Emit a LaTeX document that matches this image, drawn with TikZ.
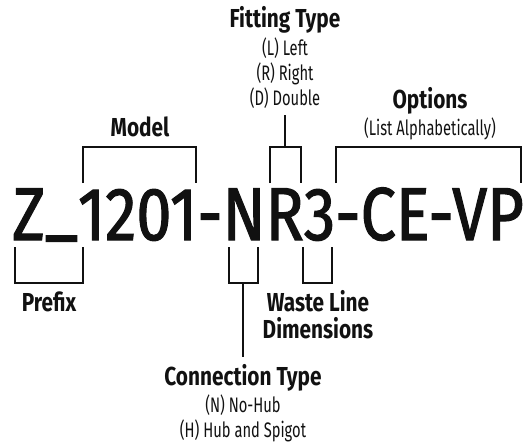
\documentclass[tikz,border=0pt]{standalone}
\usepackage{fontspec}
\setmainfont{Fira Sans}
\newfontfamily\codefont[FakeStretch=0.84,FakeBold=1.5]{Fira Sans}
\newfontfamily\headfont[FakeStretch=0.8]{Fira Sans}
\newfontfamily\subfont[FakeStretch=0.7]{Fira Sans}
\definecolor{ink}{HTML}{111111}

\begin{document}
\begin{tikzpicture}[x=1pt,y=-1pt]
  \tikzset{
    head/.style={ink,font=\headfont\bfseries\fontsize{26}{27}\selectfont,inner sep=0pt,align=center},
    sub/.style={ink,font=\subfont\fontsize{21}{25}\selectfont,inner sep=0pt,align=center},
    brk/.style={ink,line width=2pt}
  }
  \useasboundingbox (0,0) rectangle (532,442);

  % Part number
  \node[ink,font=\codefont\fontsize{75}{75}\selectfont,inner sep=0pt,anchor=base] (code) at (268,240) {Z\raisebox{0.12em}{\_}1201-NR3-CE-VP};

  % Labels above (base = last line)
  \node[head,anchor=base] (model) at (140,136) {Model};
  \node[head,anchor=base] (fitting) at (285,27) {Fitting Type};
  \node[sub,anchor=base] (fitopts) at (285,105) {(L) Left\\(R) Right\\(D) Double};
  \node[head,anchor=base] (options) at (430,108) {Options};
  \node[sub,anchor=base] (optnote) at (430,135) {(List Alphabetically)};

  % Labels below
  \node[head,anchor=base] (prefix) at (49,311) {Prefix};
  \node[head,anchor=base] (waste) at (318,338) {Waste Line\\Dimensions};
  \node[head,anchor=base] (connection) at (243,385) {Connection Type};
  \node[sub,anchor=base] (connopts) at (243,437) {(N) No-Hub\\(H) Hub and Spigot};

  % Brackets above
  \draw[brk] (83,183) -- (83,147) -- (196,147) -- (196,183);
  \draw[brk] (270,183) -- (270,147) -- (301,147) -- (301,183);
  \draw[brk] (336,183) -- (336,147) -- (521,147) -- (521,183);
  \coordinate (fitbrk) at (285,147);
  \draw[brk] (fitbrk) -- ++(0,-32);

  % Brackets below
  \draw[brk] (15,247) -- (15,283) -- (83,283) -- (83,247);
  \draw[brk] (229,247) -- (229,283) -- (258,283) -- (258,247);
  \draw[brk] (303,247) -- (303,283) -- (332,283) -- (332,247);
  \coordinate (connbrk) at (243,283);
  \draw[brk] (connbrk) -- ++(0,74);
\end{tikzpicture}
\end{document}
